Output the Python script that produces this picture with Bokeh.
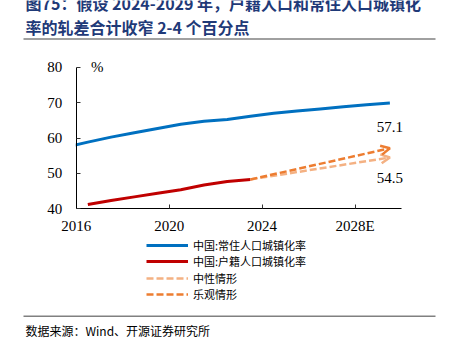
from bokeh.plotting import figure
from bokeh.models import (Range1d, FixedTicker, Label, Legend, LegendItem, Arrow,
                          OpenHead, BoxAnnotation, LinearAxis)
from bokeh.embed import file_html
from bokeh.resources import INLINE

# ---------------- data ----------------
resident_years = [2015, 2016, 2017, 2018, 2019, 2020, 2021, 2022, 2023,
                  2024, 2025, 2026, 2027, 2028, 2029]
resident_rate = [57.33, 58.84, 60.24, 61.50, 62.71, 63.89, 64.72, 65.22, 66.16,
                 67.0, 67.6, 68.2, 68.8, 69.4, 69.9]
hukou_years = [2016, 2017, 2018, 2019, 2020, 2021, 2022, 2023]
hukou_rate = [41.2, 42.35, 43.37, 44.38, 45.4, 46.7, 47.7, 48.3]
scenario_years = [2023, 2029]
neutral_rate = [48.3, 54.5]
optimistic_rate = [48.3, 57.1]
x_ticks = [2016, 2020, 2024, 2028]
x_tick_labels = ["2016", "2020", "2024", "2028E"]
y_ticks = [40, 50, 60, 70, 80]
x_min, x_max = 2016, 2030
y_min, y_max = 40, 80

names = ["中国:常住人口城镇化率", "中国:户籍人口城镇化率", "中性情形", "乐观情形"]
title_lines = ["图75：假设 2024-2029 年，户籍人口和常住人口城镇化",
               "率的轧差合计收窄 2-4 个百分点"]
source_text = "数据来源：Wind、开源证券研究所"
unit_text = "%"

# ---------------- style / layout ----------------
BLUE = "#0070C0"
RED = "#C00000"
LIGHT = "#F4B183"
ORANGE = "#ED7D31"
NAVY = "#1F3A78"
GRAY = "#808080"
SERIF = "Liberation Serif"
CJK = "Noto Sans CJK SC"
MID = 0.5  # values plotted at mid-year

W, H = 449, 352
AX_LEFT, AX_RIGHT = 75.7, 401.0     # canvas px of x_min / x_max
AX_TOP, AX_BOTTOM = 66.7, 208.3     # canvas px of y_max / y_min
px_yr = (AX_RIGHT - AX_LEFT) / (x_max - x_min)
px_unit = (AX_BOTTOM - AX_TOP) / (y_max - y_min)

p = figure(width=W, height=H, output_backend="svg", toolbar_location=None,
           x_range=Range1d(x_min - AX_LEFT / px_yr, x_min + (W - AX_LEFT) / px_yr),
           y_range=Range1d(y_min - (H - AX_BOTTOM) / px_unit, y_max + AX_TOP / px_unit),
           x_axis_type=None, y_axis_type=None, min_border=0)
p.outline_line_color = None


def sy(canvas_y):
    """canvas y (from top) -> screen units (from bottom)"""
    return H - canvas_y


xaxis = LinearAxis(fixed_location=y_min, bounds=(x_min, x_max),
                   ticker=FixedTicker(ticks=x_ticks))
yaxis = LinearAxis(fixed_location=x_min, bounds=(y_min, y_max),
                   ticker=FixedTicker(ticks=y_ticks))
for ax in (xaxis, yaxis):
    ax.axis_line_color = "#000000"
    ax.axis_line_width = 1
    ax.major_tick_line_color = "#333333"
    ax.major_tick_in = 4
    ax.major_tick_out = 0
    ax.minor_tick_line_color = None
    ax.major_label_text_font = SERIF
    ax.major_label_text_font_size = "15px"
    ax.major_label_text_color = "#000000"
xaxis.major_label_overrides = {t: s for t, s in zip(x_ticks, x_tick_labels)}
xaxis.major_label_standoff = 9
yaxis.major_label_standoff = 14
p.add_layout(xaxis, "below")
p.add_layout(yaxis, "left")

rx = [y + MID for y in resident_years]
hx = [y + MID for y in hukou_years]
sx = [y + MID for y in scenario_years]

r_blue = p.line(rx, resident_rate, line_color=BLUE, line_width=3)
r_red = p.line(hx, hukou_rate, line_color=RED, line_width=3)
r_neu = p.line(sx, neutral_rate, line_color=LIGHT, line_width=2.5, line_dash="7 3")
r_opt = p.line(sx, optimistic_rate, line_color=ORANGE, line_width=2.5, line_dash="7 3")

# hide the part of the series lying left of the y axis (plot clipping)
p.add_layout(BoxAnnotation(left=x_min - 0.55, right=x_min - 0.02, bottom=y_min,
                           top=y_max, fill_color="white", fill_alpha=1, line_color=None,
                           level="overlay"))

for vals, col in ((neutral_rate, LIGHT), (optimistic_rate, ORANGE)):
    p.add_layout(Arrow(end=OpenHead(line_color=col, line_width=2.5, size=9),
                       x_start=sx[-2], y_start=vals[-2], x_end=sx[-1], y_end=vals[-1],
                       line_alpha=0))

p.add_layout(Label(x=sx[-1], y=optimistic_rate[-1], text=f"{optimistic_rate[-1]:.1f}",
                   text_font=SERIF, text_font_size="15px", text_align="center",
                   text_baseline="middle", y_offset=21, text_color="#000000"))
p.add_layout(Label(x=sx[-1], y=neutral_rate[-1], text=f"{neutral_rate[-1]:.1f}",
                   text_font=SERIF, text_font_size="15px", text_align="center",
                   text_baseline="middle", y_offset=-21, text_color="#000000"))
p.add_layout(Label(x=x_min, y=y_max, text=unit_text, x_offset=21,
                   text_font=SERIF, text_font_size="15px", text_align="center",
                   text_baseline="middle", text_color="#000000"))

# legend: one single-row legend per entry, for exact row pitch
ROW_H = 16.2
LEG_MID = 269.4
row_centers = [LEG_MID + ROW_H * (i - 1.5) for i in range(len(names))]
for n, r, cy in zip(names, [r_blue, r_red, r_neu, r_opt], row_centers):
    p.add_layout(Legend(items=[LegendItem(label=n, renderers=[r])],
                        location=(146, sy(cy) - 10), orientation="vertical",
                        padding=0, margin=0, spacing=0, glyph_width=42,
                        glyph_height=20, label_height=20, label_standoff=5,
                        label_text_font=CJK, label_text_font_size="11px",
                        label_text_color="#000000", border_line_color=None,
                        background_fill_alpha=0))

# title
for i, line in enumerate(title_lines):
    p.add_layout(Label(x=25, y=sy(2 + 24 * i), x_units="screen", y_units="screen",
                       text=line, text_font=CJK, text_font_size="16px",
                       text_font_style="bold", text_color=NAVY,
                       text_align="left", text_baseline="middle"))

# horizontal rules
for cy in (38.5, 315.7):
    p.add_layout(BoxAnnotation(left=23, right=435, bottom=sy(cy) - 0.8, top=sy(cy) + 0.8,
                               left_units="screen", right_units="screen",
                               bottom_units="screen", top_units="screen",
                               fill_color=GRAY, fill_alpha=1, line_color=None))

# source
p.add_layout(Label(x=25, y=sy(330), x_units="screen", y_units="screen",
                   text=source_text, text_font=CJK, text_font_size="12px",
                   text_color="#000000", text_align="left", text_baseline="middle"))

open("out.html", "w").write(file_html(p, INLINE))
